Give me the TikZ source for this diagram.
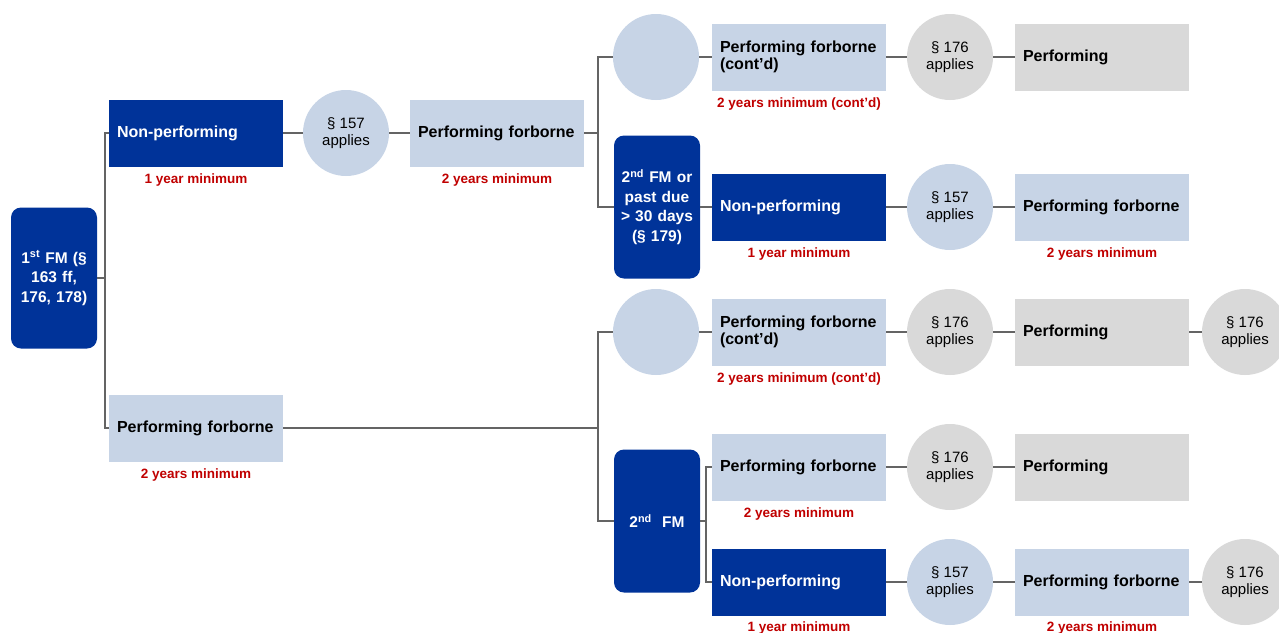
\documentclass[tikz,border=0pt]{standalone}
\usepackage{fontspec}
\setmainfont{Liberation Sans}
\usetikzlibrary{positioning}
\definecolor{dblue}{RGB}{0,51,153}
\definecolor{lblue}{RGB}{199,212,230}
\definecolor{lgray}{RGB}{217,217,217}
\definecolor{lred}{RGB}{192,0,0}
\definecolor{cgrey}{RGB}{100,100,100}
\begin{document}
\begin{tikzpicture}[x=1pt,y=-1pt,
 box/.style={rectangle, text width=158pt, inner xsep=8pt, inner ysep=0pt, minimum height=67pt, align=left, font=\fontsize{16}{17}\selectfont\bfseries},
 npbox/.style={box, fill=dblue, text=white},
 pfbox/.style={box, fill=lblue, text=black},
 pgbox/.style={box, fill=lgray, text=black},
 circ/.style={circle, minimum size=86pt, inner sep=0pt, align=center, font=\fontsize{15}{16.5}\selectfont},
 cb/.style={circ, fill=lblue},
 cg/.style={circ, fill=lgray},
 fmbox/.style={rectangle, rounded corners=10pt, fill=dblue, text=white, minimum width=86pt, text width=76pt, inner xsep=5pt, align=center, font=\fontsize{15.5}{19.5}\selectfont\bfseries},
 lab/.style={text=lred, font=\fontsize{13.5}{14}\selectfont\bfseries, inner sep=0pt},
 conn/.style={draw=cgrey, line width=2pt}]
\useasboundingbox (0,0) rectangle (1279,632);
\clip (0,0) rectangle (1279,632);

% left column
\node[fmbox, minimum height=141pt] (fm1) at (54,278) {1\textsuperscript{st} FM (§\\163 ff,\\176, 178)};
\node[npbox] (np1) at (196,133) {Non-performing};
\node[lab, below=7pt of np1] (l1) {1 year minimum};
\node[cb] (c1) at (346,133) {§ 157\\applies};
\node[pfbox] (pf1) at (497,133) {Performing forborne};
\node[lab, below=7pt of pf1] (l2) {2 years minimum};
\node[pfbox] (pf2) at (196,428) {Performing forborne};
\node[lab, below=7pt of pf2] (l3) {2 years minimum};

% upper right
\node[cb] (e1) at (656,57) {};
\node[pfbox] (pf3) at (799,57) {Performing forborne\\(cont’d)};
\node[lab, below=7pt of pf3] (l4) {2 years minimum (cont’d)};
\node[cg] (c2) at (950,57) {§ 176\\applies};
\node[pgbox] (p1) at (1102,57) {Performing};

\node[fmbox, minimum height=143pt] (fm2) at (657,207) {2\textsuperscript{nd} FM or\\past due\\> 30 days\\(§ 179)};
\node[npbox] (np2) at (799,207) {Non-performing};
\node[lab, below=7pt of np2] (l5) {1 year minimum};
\node[cb] (c3) at (950,207) {§ 157\\applies};
\node[pfbox] (pf4) at (1102,207) {Performing forborne};
\node[lab, below=7pt of pf4] (l6) {2 years minimum};

% lower right
\node[cb] (e2) at (656,332) {};
\node[pfbox] (pf5) at (799,332) {Performing forborne\\(cont’d)};
\node[lab, below=7pt of pf5] (l7) {2 years minimum (cont’d)};
\node[cg] (c4) at (950,332) {§ 176\\applies};
\node[pgbox] (p2) at (1102,332) {Performing};
\node[cg] (c5) at (1245,332) {§ 176\\applies};

\node[fmbox, minimum height=143pt] (fm3) at (657,521) {2\textsuperscript{nd}\ \ FM};
\node[pfbox] (pf6) at (799,467) {Performing forborne};
\node[lab, below=7pt of pf6] (l8) {2 years minimum};
\node[cg] (c6) at (950,467) {§ 176\\applies};
\node[pgbox] (p3) at (1102,467) {Performing};

\node[npbox] (np3) at (799,582) {Non-performing};
\node[lab, below=6pt of np3] (l9) {1 year minimum};
\node[cb] (c7) at (950,582) {§ 157\\applies};
\node[pfbox] (pf7) at (1102,582) {Performing forborne};
\node[lab, below=6pt of pf7] (l10) {2 years minimum};
\node[cg] (c8) at (1245,582) {§ 176\\applies};

% connectors
\draw[conn] (np1.west) -- ++(-4,0) |- (fm1.east);
\draw[conn] (pf2.west) -- ++(-4,0) |- (fm1.east);
\draw[conn] (np1.east) -- (c1.west);
\draw[conn] (c1.east) -- (pf1.west);
\draw[conn] (pf1.east) -- ++(14,0) |- (e1.west);
\draw[conn] (pf1.east) -- ++(14,0) |- (fm2.west);
\draw[conn] (e1.east) -- (pf3.west);
\draw[conn] (pf3.east) -- (c2.west);
\draw[conn] (c2.east) -- (p1.west);
\draw[conn] (fm2.east) -- (np2.west);
\draw[conn] (np2.east) -- (c3.west);
\draw[conn] (c3.east) -- (pf4.west);

\draw[conn] (pf2.east) -- ++(315,0) |- (e2.west);
\draw[conn] (pf2.east) -- ++(315,0) |- (fm3.west);
\draw[conn] (e2.east) -- (pf5.west);
\draw[conn] (pf5.east) -- (c4.west);
\draw[conn] (c4.east) -- (p2.west);
\draw[conn] (p2.east) -- (c5.west);
\draw[conn] (fm3.east) -- ++(6,0) |- (pf6.west);
\draw[conn] (fm3.east) -- ++(6,0) |- (np3.west);
\draw[conn] (pf6.east) -- (c6.west);
\draw[conn] (c6.east) -- (p3.west);
\draw[conn] (np3.east) -- (c7.west);
\draw[conn] (c7.east) -- (pf7.west);
\draw[conn] (pf7.east) -- (c8.west);
\end{tikzpicture}
\end{document}
